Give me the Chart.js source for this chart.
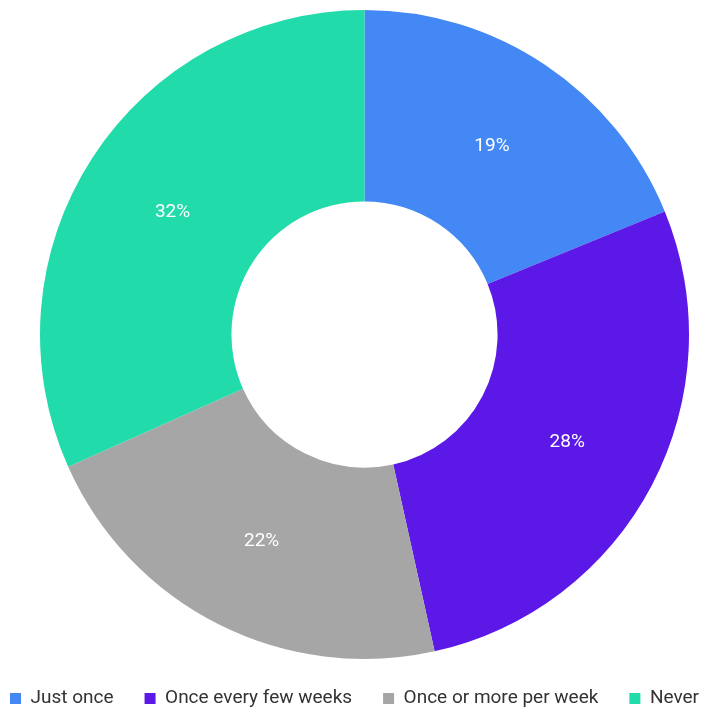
<!DOCTYPE html>
<html>
<head>
<meta charset="utf-8">
<script src="https://cdn.jsdelivr.net/npm/chart.js@4"></script>
<style>
    html, body { margin: 0; padding: 0; background: #fff; overflow: hidden; }
    #wrap { width: 709px; height: 709px; }
</style>
</head>
<body>
<div id="wrap"><canvas id="pieChart"></canvas></div>
<script>
const categories = ['Just once', 'Once every few weeks', 'Once or more per week', 'Never'];
const shares = [19, 28, 22, 32];
const sliceColors = ['#4388F5', '#5B18E6', '#A6A6A6', '#22DBAA'];

// Draw the percent text in the middle of each slice
const sliceLabels = {
    id: 'sliceLabels',
    afterDatasetsDraw(chart) {
        const ctx = chart.ctx;
        const meta = chart.getDatasetMeta(0);
        ctx.save();
        ctx.font = '19px Roboto, "Noto Sans", sans-serif';
        ctx.fillStyle = '#ffffff';
        ctx.textAlign = 'center';
        ctx.textBaseline = 'middle';
        meta.data.forEach((arc, i) => {
            const p = arc.tooltipPosition();
            ctx.fillText(shares[i] + '%', p.x, p.y + 2);
        });
        ctx.restore();
    }
};

// Legend: one row over the full canvas width, a bit lower than default
const legendTweak = {
    id: 'legendTweak',
    beforeUpdate(chart) {
        const legend = chart.legend;
        if (legend && !legend._patched) {
            const fit = legend.fit;
            legend.fit = function() {
                this.maxWidth = 900;
                fit.call(this);
                this.width = chart.width;
                this.height = 50;
            };
            legend._patched = true;
        }
    },
    afterLayout(chart) {
        const legend = chart.legend;
        // widen both sides equally so the row stays centred and does not wrap
        legend.left = -30;
        legend.right = chart.width + 30;
        legend.top -= 1;
        legend.bottom -= 1;
    }
};

new Chart(document.getElementById('pieChart'), {
    type: 'doughnut',
    data: {
        labels: categories,
        datasets: [{
            data: shares,
            backgroundColor: sliceColors,
            borderWidth: 0
        }]
    },
    options: {
        responsive: true,
        maintainAspectRatio: false,
        animation: false,
        cutout: '41%',
        layout: {
            padding: { top: 10, left: 20, bottom: 0 }
        },
        plugins: {
            legend: {
                position: 'bottom',
                labels: {
                    boxWidth: 11,
                    boxHeight: 11,
                    padding: 31,
                    color: '#333333',
                    font: { size: 19, family: 'Roboto, "Noto Sans", sans-serif' }
                }
            },
            tooltip: { enabled: false }
        }
    },
    plugins: [sliceLabels, legendTweak]
});
</script>
</body>
</html>
